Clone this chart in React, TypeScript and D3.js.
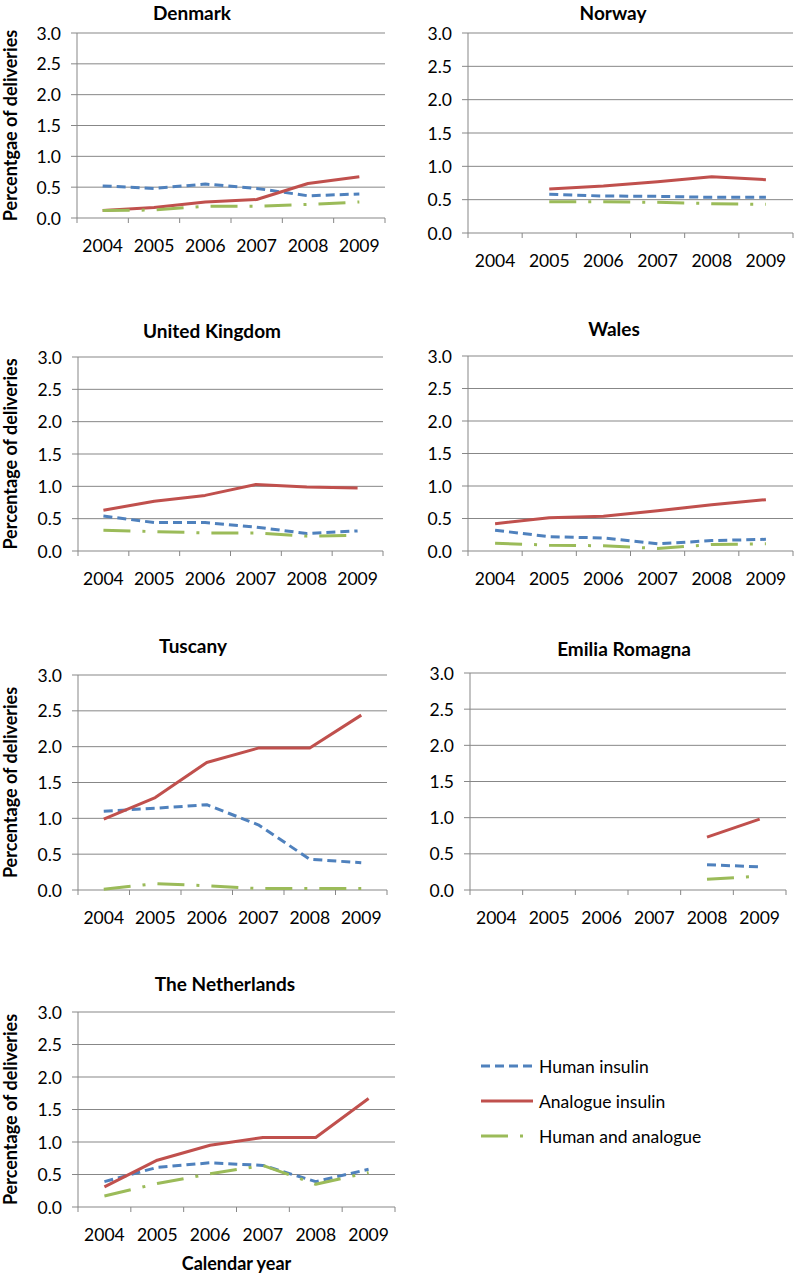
import React from 'react';
import * as d3 from 'd3';

// categories and ticks
const years = ["2004", "2005", "2006", "2007", "2008", "2009"];
const yTicks = [0, 0.5, 1, 1.5, 2, 2.5, 3];

// series values per region (null = no data)
const denmarkHuman = [0.52, 0.48, 0.55, 0.48, 0.36, 0.39];
const denmarkAnalogue = [0.12, 0.17, 0.26, 0.30, 0.56, 0.67];
const denmarkBoth = [0.12, 0.13, 0.19, 0.19, 0.22, 0.26];

const norwayHuman = [null, 0.58, 0.555, 0.55, 0.535, 0.535];
const norwayAnalogue = [null, 0.66, 0.705, 0.77, 0.845, 0.80];
const norwayBoth = [null, 0.47, 0.47, 0.46, 0.44, 0.43];

const ukHuman = [0.54, 0.44, 0.44, 0.37, 0.27, 0.31];
const ukAnalogue = [0.63, 0.77, 0.86, 1.03, 0.99, 0.975];
const ukBoth = [0.32, 0.30, 0.28, 0.28, 0.23, 0.24];

const walesHuman = [0.32, 0.22, 0.20, 0.11, 0.16, 0.18];
const walesAnalogue = [0.42, 0.51, 0.535, 0.62, 0.71, 0.79];
const walesBoth = [0.12, 0.09, 0.08, 0.04, 0.10, 0.11];

const tuscanyHuman = [1.10, 1.14, 1.19, 0.91, 0.43, 0.38];
const tuscanyAnalogue = [0.99, 1.29, 1.78, 1.98, 1.98, 2.44];
const tuscanyBoth = [0.01, 0.09, 0.06, 0.02, 0.02, 0.02];

const emiliaHuman = [null, null, null, null, 0.35, 0.32];
const emiliaAnalogue = [null, null, null, null, 0.73, 0.98];
const emiliaBoth = [null, null, null, null, 0.15, 0.19];

const nlHuman = [0.39, 0.61, 0.68, 0.64, 0.39, 0.58];
const nlAnalogue = [0.31, 0.72, 0.95, 1.07, 1.07, 1.67];
const nlBoth = [0.17, 0.36, 0.51, 0.64, 0.35, 0.53];

const seriesNames = ["Human insulin", "Analogue insulin", "Human and analogue"];
const seriesColors = ["#4F81BD", "#C0504D", "#9BBB59"];
const seriesDash = ["9,5", null, "27,12,3,12"];

const FONT = "Lato, 'Open Sans', sans-serif";
const GRID = "#878787";

type Panel = {
  title: string;
  yTitle: string | null;
  human: (number | null)[];
  analogue: (number | null)[];
  both: (number | null)[];
  x0: number; x1: number; y0: number; y1: number;
  titleX: number; titleY: number;
  xTitle?: string;
};

const panels: Panel[] = [
  { title: "Denmark", yTitle: "Percentgae of deliveries", human: denmarkHuman, analogue: denmarkAnalogue, both: denmarkBoth,
    x0: 77, x1: 385, y0: 33, y1: 218, titleX: 192, titleY: 12 },
  { title: "Norway", yTitle: null, human: norwayHuman, analogue: norwayAnalogue, both: norwayBoth,
    x0: 468, x1: 793, y0: 33, y1: 233, titleX: 613, titleY: 12 },
  { title: "United Kingdom", yTitle: "Percentage of deliveries", human: ukHuman, analogue: ukAnalogue, both: ukBoth,
    x0: 78, x1: 383, y0: 357, y1: 551, titleX: 212, titleY: 330 },
  { title: "Wales", yTitle: null, human: walesHuman, analogue: walesAnalogue, both: walesBoth,
    x0: 468, x1: 793, y0: 356, y1: 551, titleX: 614, titleY: 328 },
  { title: "Tuscany", yTitle: "Percentage of deliveries", human: tuscanyHuman, analogue: tuscanyAnalogue, both: tuscanyBoth,
    x0: 78, x1: 387, y0: 675, y1: 890, titleX: 193, titleY: 645 },
  { title: "Emilia Romagna", yTitle: null, human: emiliaHuman, analogue: emiliaAnalogue, both: emiliaBoth,
    x0: 470, x1: 786, y0: 673, y1: 890, titleX: 624, titleY: 648 },
  { title: "The Netherlands", yTitle: "Percentage of deliveries", human: nlHuman, analogue: nlAnalogue, both: nlBoth,
    x0: 78, x1: 395, y0: 1012, y1: 1207, titleX: 225, titleY: 983, xTitle: "Calendar year" },
];

function ChartPanel({ p }: { p: Panel }) {
  const x = d3.scaleBand<string>().domain(years).range([p.x0, p.x1]).padding(0);
  const y = d3.scaleLinear().domain([0, 3]).range([p.y1, p.y0]);
  const line = d3.line<number | null>()
    .defined(d => d != null)
    .x((_, i) => (x(years[i]) as number) + x.bandwidth() / 2)
    .y(d => y(d as number));
  const edges = years.map(c => x(c) as number).concat([p.x1]);
  const series = [p.human, p.analogue, p.both];
  return (
    <g>
      <text x={p.titleX} y={p.titleY} textAnchor="middle" dominantBaseline="central"
        fontFamily={FONT} fontWeight="bold" fontSize={19}>{p.title}</text>
      {yTicks.map(t => (
        <g key={t}>
          <line x1={p.x0 - 6} x2={p.x1} y1={y(t)} y2={y(t)} stroke={GRID} strokeWidth={1} />
          <text x={p.x0 - 16} y={y(t)} textAnchor="end" dominantBaseline="central"
            fontFamily={FONT} fontSize={17.5}>{d3.format(".1f")(t)}</text>
        </g>
      ))}
      <line x1={p.x0} x2={p.x0} y1={p.y0} y2={p.y1} stroke={GRID} strokeWidth={1} />
      {edges.map((e, i) => (
        <line key={i} x1={e} x2={e} y1={p.y1} y2={p.y1 + 5} stroke={GRID} strokeWidth={1} />
      ))}
      {years.map(c => (
        <text key={c} x={(x(c) as number) + x.bandwidth() / 2} y={p.y1 + 27} textAnchor="middle"
          dominantBaseline="central" fontFamily={FONT} fontSize={17.5}>{c}</text>
      ))}
      {p.yTitle && (
        <text transform={`translate(${10},${(p.y0 + p.y1) / 2}) rotate(-90)`} textAnchor="middle"
          dominantBaseline="central" fontFamily={FONT} fontWeight="bold" fontSize={18}>{p.yTitle}</text>
      )}
      {p.xTitle && (
        <text x={(p.x0 + p.x1) / 2} y={p.y1 + 56} textAnchor="middle" dominantBaseline="central"
          fontFamily={FONT} fontWeight="bold" fontSize={18}>{p.xTitle}</text>
      )}
      {series.map((s, i) => (
        <path key={i} d={line(s) || ""} fill="none" stroke={seriesColors[i]} strokeWidth={3}
          strokeDasharray={seriesDash[i] || undefined} strokeLinejoin="round" />
      ))}
    </g>
  );
}

export default function App() {
  return (
    <svg width={794} height={1274} style={{ position: "absolute", left: 0, top: 0, background: "#fff" }}>
      <rect width={794} height={1274} fill="#fff" />
      {panels.map(p => <ChartPanel key={p.title} p={p} />)}
      {seriesNames.map((n, i) => (
        <g key={n}>
          <line x1={481} x2={533} y1={1066 + i * 35} y2={1066 + i * 35} stroke={seriesColors[i]} strokeWidth={3}
            strokeDasharray={seriesDash[i] || undefined} />
          <text x={539} y={1066 + i * 35} dominantBaseline="central" fontFamily={FONT} fontSize={17.5}>{n}</text>
        </g>
      ))}
    </svg>
  );
}
